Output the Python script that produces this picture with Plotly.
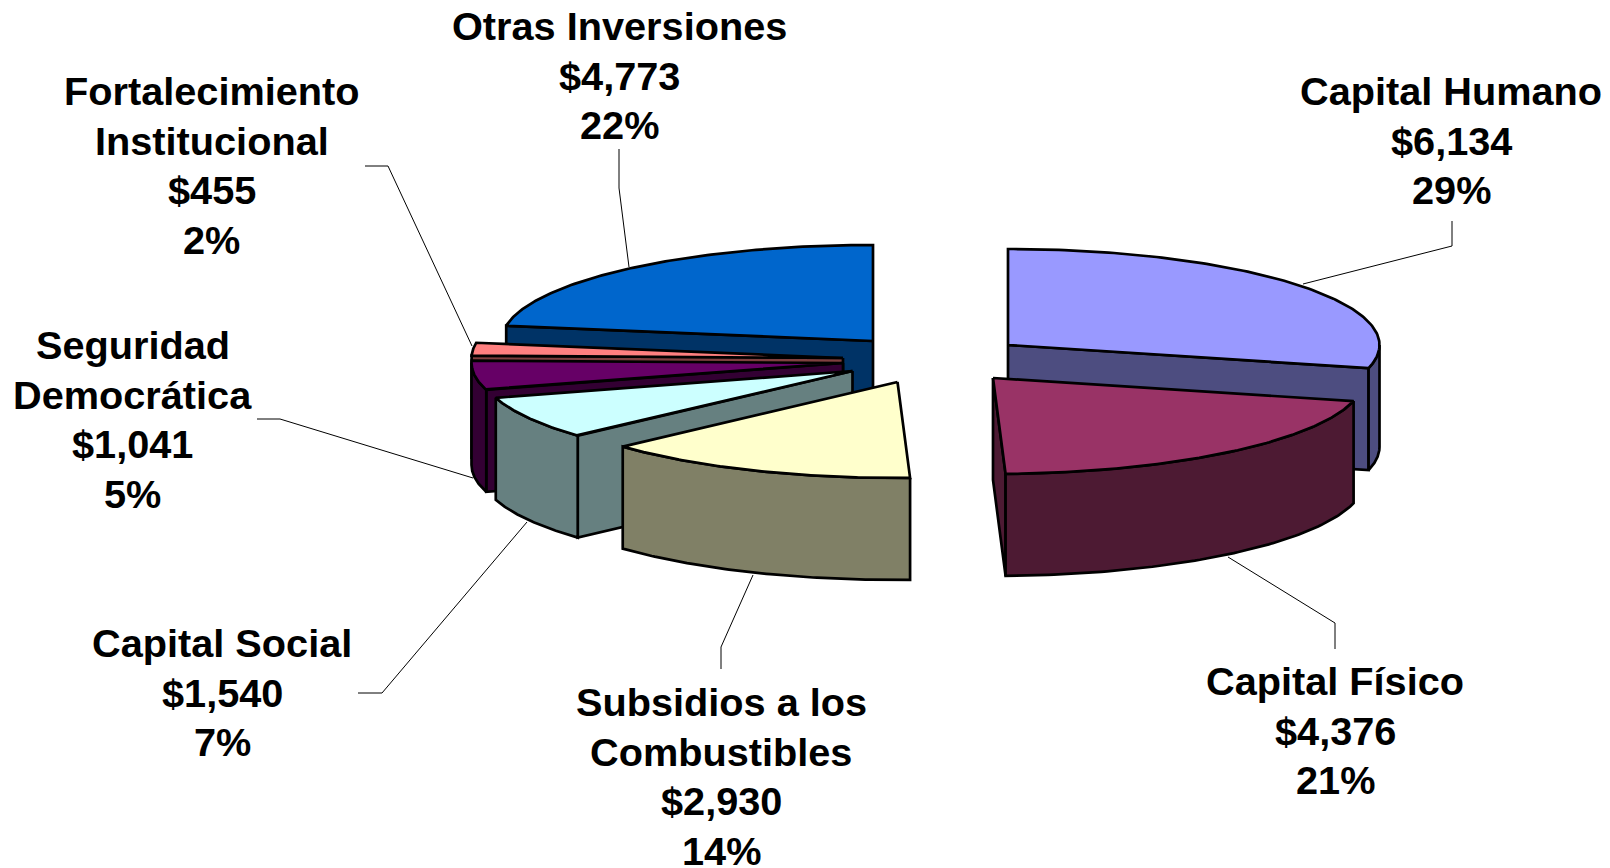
import numpy as np
import plotly.graph_objects as go

# --- data ---
categories = ["Capital Humano", "Capital Físico", "Subsidios a los Combustibles",
              "Capital Social", "Seguridad Democrática",
              "Fortalecimiento Institucional", "Otras Inversiones"]
values = [6134, 4376, 2930, 1540, 1041, 455, 4773]
percent_labels = ["29%", "21%", "14%", "7%", "5%", "2%", "22%"]
label_lines = [["Capital Humano"], ["Capital Físico"], ["Subsidios a los", "Combustibles"],
               ["Capital Social"], ["Seguridad", "Democrática"],
               ["Fortalecimiento", "Institucional"], ["Otras Inversiones"]]

# --- style ---
top_colors = ["#9999FF", "#993366", "#FFFFCC", "#CCFFFF", "#660066", "#FF8080", "#0066CC"]
side_colors = ["#4D4D80", "#4D1A33", "#808066", "#668080", "#330033", "#804040", "#003366"]

# --- layout of the exploded 3-D pie, in page pixels ---
W, H = 1610, 868
RX, RY, DEPTH = 371.5, 96.0, 102.0
apex_x = [1008, 993, 897.5, 852.5, 843, 843, 873]
apex_y = [345, 378, 382, 371, 363, 358, 341]
draw_order = [6, 5, 4, 3, 2, 0, 1]
label_x = [1451, 1335, 721, 222, 132.5, 211.5, 619.5]
label_y = [91, 681, 702, 643, 345, 91, 26]
LINE_STEP = 49.7
leaders = [
    ([1452, 1452, 1303], [221, 246, 284]),
    ([1335, 1335, 1228], [649, 623, 557]),
    ([721, 721, 753], [669, 647, 575]),
    ([358, 382, 527], [693, 693, 522]),
    ([257, 280, 473], [419, 419, 478]),
    ([365, 388, 472], [166, 166, 346]),
    ([619, 619, 629], [149, 188, 267]),
]

total = sum(values)
edges = np.concatenate([[0], np.cumsum(values)]) / total * 2 * np.pi


def rim(i, t):
    return apex_x[i] + RX * np.sin(t), apex_y[i] - RY * np.cos(t)


def face(fig, xs, ys, color):
    fig.add_trace(go.Scatter(
        x=list(xs), y=list(ys), mode="lines", fill="toself", fillcolor=color,
        line=dict(color="#000000", width=2.7), hoverinfo="skip", showlegend=False))


fig = go.Figure()

for i, (lx, ly) in enumerate(leaders):
    fig.add_trace(go.Scatter(x=lx, y=ly, mode="lines",
                             line=dict(color="#000000", width=1),
                             hoverinfo="skip", showlegend=False))

for i in draw_order:
    a0, a1 = edges[i], edges[i + 1]
    side = side_colors[i]
    cx, cy = apex_x[i], apex_y[i]
    # radial wall visible on the start edge
    if np.sin(a0) < -1e-9:
        x, y = rim(i, a0)
        face(fig, [cx, x, x, cx, cx], [cy, y, y + DEPTH, cy + DEPTH, cy], side)
    # radial wall visible on the end edge
    if np.sin(a1) > 1e-9:
        x, y = rim(i, a1)
        face(fig, [cx, x, x, cx, cx], [cy, y, y + DEPTH, cy + DEPTH, cy], side)
    # outer curved wall, front half only
    lo, hi = max(a0, np.pi / 2), min(a1, 3 * np.pi / 2)
    if hi > lo:
        t = np.linspace(lo, hi, 80)
        x, y = rim(i, t)
        face(fig, np.r_[x, x[::-1], x[0]], np.r_[y, y[::-1] + DEPTH, y[0]], side)
    # top
    t = np.linspace(a0, a1, 120)
    x, y = rim(i, t)
    face(fig, np.r_[cx, x, cx], np.r_[cy, y, cy], top_colors[i])

for i, name_lines in enumerate(label_lines):
    lines = name_lines + [f"${values[i]:,}", percent_labels[i]]
    for k, text in enumerate(lines):
        fig.add_annotation(x=label_x[i], y=label_y[i] + k * LINE_STEP, text=f"<b>{text}</b>",
                           showarrow=False, xanchor="center", yanchor="middle",
                           font=dict(family="Liberation Sans", size=39.7, color="#000000"))

fig.update_layout(
    width=W, height=H, margin=dict(l=0, r=0, t=0, b=0),
    paper_bgcolor="#FFFFFF", plot_bgcolor="#FFFFFF", showlegend=False,
    xaxis=dict(range=[0, W], visible=False, fixedrange=True),
    yaxis=dict(range=[H, 0], visible=False, fixedrange=True),
)

fig.write_html("out.html", config={"displayModeBar": False},
               post_script="document.body.style.margin='0';document.body.style.overflow='hidden';")
